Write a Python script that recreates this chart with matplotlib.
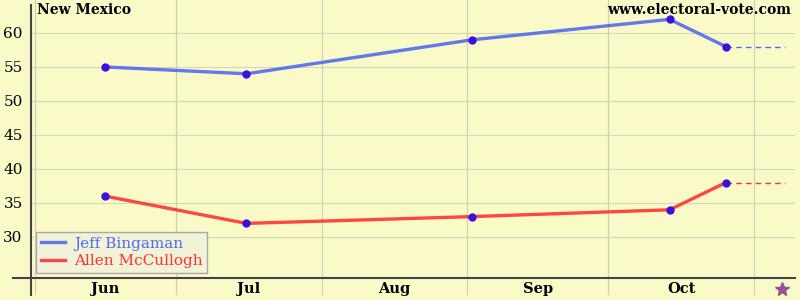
import matplotlib
matplotlib.use("Agg")
import matplotlib.pyplot as plt

# days counted from Jun 1
months = ["Jun", "Jul", "Aug", "Sep", "Oct"]
month_starts = [0, 30, 61, 92, 122, 153]
poll_days = [15, 45, 93, 135, 147]
election_day = 159

bingaman = [55, 54, 59, 62, 58]
mcculloch = [36, 32, 33, 34, 38]
yticks = [30, 35, 40, 45, 50, 55, 60]

bg = "#fafac8"
blue = "#4f6bf0"
red = "#ff3333"
font = "DejaVu Serif"

fig = plt.figure(figsize=(8, 3), dpi=100, facecolor=bg)
ax = fig.add_axes([31 / 800, 5 / 300, 764 / 800, 295 / 300])
ax.set_facecolor(bg)
ax.set_xlim(-0.85, 161.7)
ax.set_ylim(21.47, 64.85)
for s in ax.spines.values():
    s.set_visible(False)

for y in yticks:
    ax.axhline(y, color="#d6d6b8", lw=0.8, zorder=0)
for d in month_starts:
    ax.axvline(d, color="#cfcfb4", lw=0.8, zorder=0)

ax.set_xticks([])
ax.set_yticks(yticks)
ax.set_yticklabels([str(v) for v in yticks], fontfamily=font, fontsize=11)
ax.tick_params(axis="y", length=0, pad=6)

# axis lines
ax.plot([-0.024, 1.0], [24, 24], color="#444444", lw=1.5,
        transform=ax.get_yaxis_transform(), clip_on=False, zorder=3)
ax.plot([-0.85, -0.85], [21.47, 64.1], color="#444444", lw=1.5,
        clip_on=False, zorder=3)

l1, = ax.plot(poll_days, bingaman, color=blue, lw=2.4, alpha=0.9, zorder=4,
              label="Jeff Bingaman")
l2, = ax.plot(poll_days, mcculloch, color=red, lw=2.4, alpha=0.9, zorder=4,
              label="Allen McCullogh")
ax.plot([poll_days[-1], election_day + 0.5], [bingaman[-1]] * 2, color=blue,
        lw=1.0, ls=(0, (4, 3)), zorder=3)
ax.plot([poll_days[-1], election_day + 0.5], [mcculloch[-1]] * 2, color=red,
        lw=1.0, ls=(0, (4, 3)), zorder=3)
ax.plot(poll_days, bingaman, "o", color="#3a10e0", ms=5, zorder=5)
ax.plot(poll_days, mcculloch, "o", color="#3a10e0", ms=5, zorder=5)

for i, m in enumerate(months):
    mid = (month_starts[i] + month_starts[i + 1]) / 2
    ax.text(mid, 22.35, m, ha="center", va="center", fontfamily=font,
            fontsize=10.5, fontweight="bold")
ax.plot([election_day], [22.35], marker="*", color="#9b4f96", ms=10,
        clip_on=False, zorder=5)

fig.text(37 / 800, 1 - 10 / 300, "New Mexico", ha="left", va="center",
         fontfamily=font, fontsize=10, fontweight="bold")
fig.text(791 / 800, 1 - 10 / 300, "www.electoral-vote.com", ha="right",
         va="center", fontfamily=font, fontsize=10, fontweight="bold")

leg = ax.legend(loc="lower left", bbox_to_anchor=(5 / 764, 22 / 295),
                borderaxespad=0, prop={"family": font, "size": 11},
                facecolor="#f2f2d8", edgecolor="#aaaaaa", framealpha=1,
                fancybox=False, handlelength=1.6, handletextpad=0.6,
                labelspacing=0.25, borderpad=0.3)
leg.get_texts()[0].set_color(blue)
leg.get_texts()[1].set_color(red)

fig.savefig("out.png", dpi=100, facecolor=bg)
